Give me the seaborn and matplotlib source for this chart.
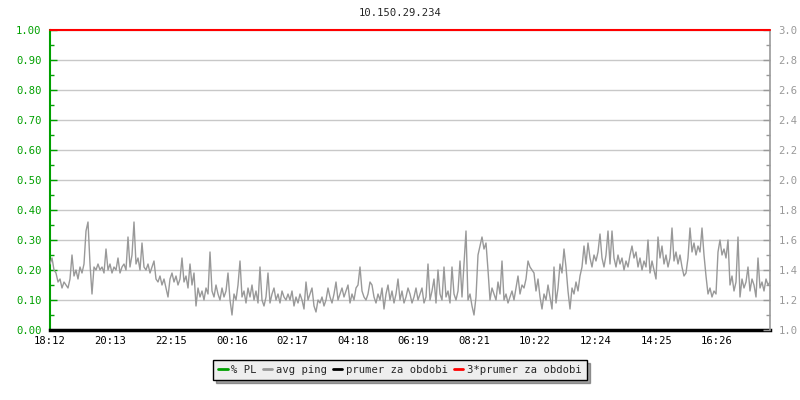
import numpy as np
import pandas as pd
import matplotlib
matplotlib.use("Agg")
import matplotlib.pyplot as plt
import seaborn as sns
from matplotlib.lines import Line2D
from matplotlib.ticker import MultipleLocator, FormatStrFormatter

# ---------------- data ----------------
title = "10.150.29.234"
tick_labels = ["18:12", "20:13", "22:15", "00:16", "02:17", "04:18",
               "06:19", "08:21", "10:22", "12:24", "14:25", "16:26"]
tick_minutes = [0, 121, 243, 364, 485, 606, 727, 849, 970, 1092, 1213, 1334]
span_minutes = 1440
sample_step_min = 4
legend_labels = ["% PL", "avg ping", "prumer za obdobi", "3*prumer za obdobi"]

# avg ping, read on the left (0..1) scale  (right scale = 1 + 2*value, ms)
avg_ping_scaled = [
    # 18:12 ..
    0.22, 0.24, 0.20, 0.19, 0.16, 0.17, 0.14, 0.16, 0.15, 0.14,
    0.17, 0.25, 0.18, 0.20, 0.17, 0.21, 0.19, 0.22, 0.33, 0.36,
    0.22, 0.12, 0.21, 0.20, 0.22, 0.20, 0.21, 0.19, 0.27, 0.20,
    0.22, 0.19, 0.21, 0.20, 0.24, 0.19, 0.21, 0.22, 0.20, 0.31,
    0.21, 0.25, 0.36, 0.22, 0.24, 0.20, 0.29, 0.21, 0.20, 0.22,
    0.19, 0.21, 0.23, 0.17, 0.16, 0.18, 0.15, 0.17, 0.14, 0.11,
    # ~22:10 ..
    0.17, 0.19, 0.16, 0.18, 0.15, 0.17, 0.24, 0.16, 0.18, 0.14,
    0.22, 0.15, 0.19, 0.08, 0.14, 0.11, 0.13, 0.10, 0.14, 0.12,
    0.26, 0.13, 0.11, 0.15, 0.12, 0.10, 0.14, 0.11, 0.13, 0.19,
    0.10, 0.05, 0.12, 0.10, 0.15, 0.23, 0.11, 0.13, 0.09, 0.14,
    0.11, 0.15, 0.10, 0.13, 0.09, 0.21, 0.10, 0.08, 0.11, 0.19,
    0.09, 0.12, 0.14, 0.10, 0.12, 0.09, 0.13, 0.11, 0.10, 0.12,
    # ~02:12 ..
    0.10, 0.13, 0.08, 0.11, 0.09, 0.12, 0.10, 0.07, 0.16, 0.10,
    0.12, 0.14, 0.08, 0.06, 0.10, 0.09, 0.11, 0.08, 0.10, 0.14,
    0.11, 0.09, 0.12, 0.16, 0.10, 0.12, 0.14, 0.11, 0.13, 0.15,
    0.09, 0.12, 0.10, 0.14, 0.15, 0.21, 0.13, 0.11, 0.10, 0.12,
    0.16, 0.15, 0.11, 0.09, 0.12, 0.10, 0.14, 0.07, 0.12, 0.15,
    0.10, 0.13, 0.09, 0.12, 0.17, 0.10, 0.13, 0.09, 0.11, 0.14,
    # ~06:12 ..
    0.12, 0.09, 0.11, 0.14, 0.10, 0.12, 0.14, 0.09, 0.11, 0.22,
    0.10, 0.13, 0.17, 0.09, 0.20, 0.12, 0.10, 0.21, 0.11, 0.13,
    0.09, 0.21, 0.12, 0.10, 0.13, 0.23, 0.11, 0.22, 0.33, 0.10,
    0.12, 0.08, 0.05, 0.11, 0.25, 0.28, 0.31, 0.27, 0.29, 0.20,
    0.10, 0.14, 0.12, 0.10, 0.16, 0.12, 0.23, 0.10, 0.12, 0.09,
    0.11, 0.13, 0.10, 0.14, 0.18, 0.12, 0.15, 0.14, 0.17, 0.23,
    # ~10:12 ..
    0.21, 0.20, 0.19, 0.13, 0.17, 0.11, 0.07, 0.12, 0.10, 0.15,
    0.11, 0.07, 0.21, 0.09, 0.14, 0.22, 0.19, 0.27, 0.21, 0.13,
    0.07, 0.14, 0.12, 0.16, 0.13, 0.18, 0.21, 0.28, 0.22, 0.29,
    0.24, 0.21, 0.25, 0.23, 0.26, 0.32, 0.24, 0.21, 0.25, 0.33,
    0.22, 0.33, 0.24, 0.21, 0.25, 0.22, 0.24, 0.20, 0.23, 0.21,
    0.25, 0.28, 0.24, 0.26, 0.21, 0.24, 0.20, 0.23, 0.21, 0.30,
    # ~14:12 .. 18:12
    0.19, 0.23, 0.20, 0.17, 0.31, 0.24, 0.28, 0.22, 0.25, 0.21,
    0.24, 0.34, 0.23, 0.26, 0.22, 0.25, 0.21, 0.18, 0.19, 0.24,
    0.34, 0.26, 0.29, 0.25, 0.28, 0.26, 0.34, 0.25, 0.18, 0.12,
    0.14, 0.11, 0.13, 0.12, 0.26, 0.30, 0.25, 0.27, 0.24, 0.30,
    0.15, 0.18, 0.13, 0.16, 0.31, 0.11, 0.17, 0.14, 0.16, 0.21,
    0.13, 0.17, 0.15, 0.11, 0.24, 0.14, 0.16, 0.13, 0.17, 0.15,
    0.16,
]
packet_loss_pct = [0.0] * len(avg_ping_scaled)
limit_3x_ms = 3.0

# ---------------- styling ----------------
sns.set_style("white")
plt.rcParams["font.family"] = ["DejaVu Sans Mono", "DejaVu Sans"]

GREEN = "#00a000"
GRAY = "#999999"
GRID = "#c8c8c8"
RED = "#ff0000"

df = pd.DataFrame({
    "minute": np.arange(len(avg_ping_scaled)) * sample_step_min,
    "ping": avg_ping_scaled,
    "pl": packet_loss_pct,
})

fig = plt.figure(figsize=(8, 4), dpi=100)
ax = fig.add_axes([0.0625, 0.175, 0.9, 0.75])

ax.set_ylim(0, 1)
ax.set_xlim(0, span_minutes)
ax.yaxis.set_major_locator(MultipleLocator(0.1))
ax.yaxis.set_minor_locator(MultipleLocator(0.05))
ax.yaxis.set_major_formatter(FormatStrFormatter("%.2f"))
ax.yaxis.grid(True, which="major", color=GRID, lw=1)
ax.set_axisbelow(True)

sns.lineplot(data=df, x="minute", y="ping", ax=ax, color=GRAY, lw=1, zorder=3)
sns.lineplot(data=df, x="minute", y="pl", ax=ax, color=GREEN, lw=1, zorder=2)

ax.set_xticks(tick_minutes)
ax.set_xticklabels(tick_labels)
ax.set_xlabel("")
ax.set_ylabel("")

ax.tick_params(axis="x", direction="in", length=5, width=1, color="black",
               labelsize=7.6, pad=4, labelcolor="black")
ax.tick_params(axis="y", which="major", direction="in", length=5, width=1,
               color=GREEN, labelcolor=GREEN, labelsize=7.6, pad=6)
ax.tick_params(axis="y", which="minor", direction="in", length=3, width=1,
               color=GREEN)

for s in ["top", "right"]:
    ax.spines[s].set_visible(False)
ax.spines["left"].set_color(GREEN)
ax.spines["left"].set_linewidth(1.5)
ax.spines["bottom"].set_color("black")
ax.spines["bottom"].set_linewidth(2.5)

ax2 = ax.twinx()
ax2.set_ylim(1.0, 3.0)
ax2.yaxis.set_major_locator(MultipleLocator(0.2))
ax2.yaxis.set_minor_locator(MultipleLocator(0.1))
ax2.yaxis.set_major_formatter(FormatStrFormatter("%.1f"))
ax2.tick_params(axis="y", which="major", direction="in", length=5, width=1,
                color=GRAY, labelcolor=GRAY, labelsize=7.6, pad=6)
ax2.tick_params(axis="y", which="minor", direction="in", length=3, width=1,
                color=GRAY)
for s in ["top", "left", "bottom"]:
    ax2.spines[s].set_visible(False)
ax2.spines["right"].set_color(GRAY)
ax2.spines["right"].set_linewidth(1.2)
ax2.axhline(limit_3x_ms, color=RED, lw=1.5, clip_on=False, zorder=5)

fig.text(0.5, 1 - 13 / 400, title, ha="center", va="center", fontsize=7.6)

handles = [Line2D([], [], color=GREEN, lw=2),
           Line2D([], [], color=GRAY, lw=2),
           Line2D([], [], color="black", lw=2),
           Line2D([], [], color=RED, lw=2)]
leg = fig.legend(handles, legend_labels, loc="center",
                 bbox_to_anchor=(0.5, 1 - 370 / 400), ncol=4,
                 frameon=True, fancybox=False, shadow=True,
                 edgecolor="black", facecolor="#eeeeee", fontsize=7.6,
                 handlelength=0.9, handletextpad=0.35, columnspacing=0.55,
                 borderpad=0.5, borderaxespad=0)
leg.get_frame().set_linewidth(1)
leg.get_frame().set_alpha(1)

fig.savefig("out.png", dpi=100)
